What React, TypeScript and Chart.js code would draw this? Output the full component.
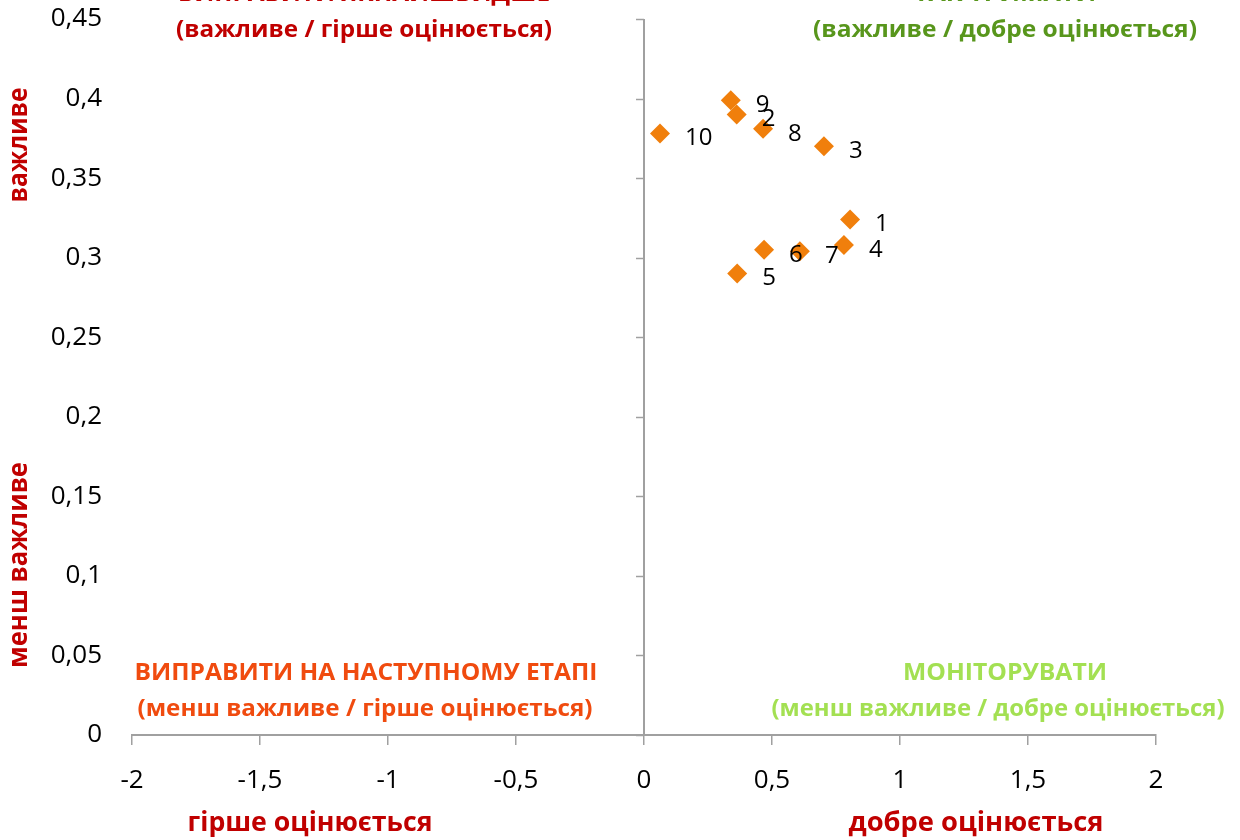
import { useEffect, useRef } from 'react';
import { Chart, registerables } from 'chart.js';

Chart.register(...registerables);

// ---- data ----
const pointLabels = ['1', '2', '3', '4', '5', '6', '7', '8', '9', '10'];
const xValues = [0.805, 0.362, 0.703, 0.781, 0.364, 0.469, 0.609, 0.465, 0.339, 0.0625];
const yValues = [0.324, 0.39, 0.37, 0.308, 0.29, 0.305, 0.304, 0.381, 0.399, 0.378];
const xTickLabels = ['-2', '-1,5', '-1', '-0,5', '0', '0,5', '1', '1,5', '2'];
const yTickLabels = ['0', '0,05', '0,1', '0,15', '0,2', '0,25', '0,3', '0,35', '0,4', '0,45'];

const quadrantTopLeft = ['ВИПРАВИТИ ЯКНАЙШВИДШЕ', '(важливе / гірше оцінюється)'];
const quadrantTopRight = ['ТАК ТРИМАТИ', '(важливе / добре оцінюється)'];
const quadrantBottomLeft = ['ВИПРАВИТИ НА НАСТУПНОМУ ЕТАПІ', '(менш важливе / гірше оцінюється)'];
const quadrantBottomRight = ['МОНІТОРУВАТИ', '(менш важливе / добре оцінюється)'];
const xAxisTitles = ['гірше оцінюється', 'добре оцінюється'];
const yAxisTitles = ['важливе', 'менш важливе'];

const AXIS_GREY = '#A0A0A0';
const DARK_RED = '#C00000';

function fitText(
  ctx: CanvasRenderingContext2D,
  text: string,
  cx: number,
  cy: number,
  w: number,
  font: string,
  color: string,
  rot = 0
) {
  ctx.save();
  ctx.font = font;
  const m = ctx.measureText(text).width || 1;
  ctx.translate(cx, cy);
  if (rot) ctx.rotate(rot);
  ctx.scale(w / m, 1);
  ctx.fillStyle = color;
  ctx.textAlign = 'center';
  ctx.textBaseline = 'middle';
  ctx.fillText(text, 0, 0);
  ctx.restore();
}

const overlayPlugin = {
  id: 'quadOverlay',
  beforeDatasetsDraw(chart: any) {
    const ctx: CanvasRenderingContext2D = chart.ctx;
    const xs = chart.scales.x;
    const ys = chart.scales.y;
    const area = chart.chartArea;
    const x0 = Math.round(xs.getPixelForValue(0));
    ctx.save();
    ctx.strokeStyle = AXIS_GREY;
    ctx.lineWidth = 2;
    ctx.beginPath();
    ctx.moveTo(x0, area.top);
    ctx.lineTo(x0, area.bottom);
    ctx.stroke();
    ys.ticks.forEach((t: any) => {
      const y = Math.round(ys.getPixelForValue(t.value)) + 0.5;
      ctx.beginPath();
      ctx.lineWidth = 1.5;
      ctx.moveTo(x0 - 8, y);
      ctx.lineTo(x0, y);
      ctx.stroke();
    });
    ctx.restore();
  },
  afterDatasetsDraw(chart: any) {
    const ctx: CanvasRenderingContext2D = chart.ctx;
    const meta = chart.getDatasetMeta(0);
    ctx.save();
    ctx.font = '24px "Open Sans"';
    ctx.fillStyle = '#000000';
    ctx.textAlign = 'left';
    ctx.textBaseline = 'middle';
    meta.data.forEach((el: any, i: number) => {
      ctx.fillText(pointLabels[i], el.x + 25, el.y + 5);
    });
    ctx.restore();

    const bold = 'bold 23px "Open Sans"';
    // top quadrants (partly cut off at top)
    fitText(ctx, quadrantTopLeft[0], 364, -6, 372, bold, DARK_RED);
    fitText(ctx, quadrantTopLeft[1], 364, 30, 376, bold, DARK_RED);
    fitText(ctx, quadrantTopRight[0], 1005, -6, 182, bold, '#58961C');
    fitText(ctx, quadrantTopRight[1], 1005, 30, 384, bold, '#58961C');
    // bottom quadrants
    fitText(ctx, quadrantBottomLeft[0], 366, 673, 463, bold, '#F04B0F');
    fitText(ctx, quadrantBottomLeft[1], 365, 709, 455, bold, '#F04B0F');
    fitText(ctx, quadrantBottomRight[0], 1005, 673, 204, bold, '#A3E052');
    fitText(ctx, quadrantBottomRight[1], 998, 709, 453, bold, '#A3E052');
    // axis titles
    const titleFont = 'bold 26px "Open Sans"';
    fitText(ctx, xAxisTitles[0], 310, 824, 245, titleFont, DARK_RED);
    fitText(ctx, xAxisTitles[1], 976, 824, 255, titleFont, DARK_RED);
    fitText(ctx, yAxisTitles[0], 20, 145, 115, titleFont, DARK_RED, -Math.PI / 2);
    fitText(ctx, yAxisTitles[1], 20, 565, 206, titleFont, DARK_RED, -Math.PI / 2);
  },
};

export default function App() {
  const canvasRef = useRef<HTMLCanvasElement | null>(null);

  useEffect(() => {
    if (!canvasRef.current) return;
    const points = xValues.map((x, i) => ({ x, y: yValues[i] }));
    const chart = new Chart(canvasRef.current, {
      type: 'scatter',
      data: {
        datasets: [
          {
            label: 'series',
            data: points,
            pointStyle: 'rectRot',
            pointRadius: 10,
            pointHoverRadius: 10,
            pointBorderWidth: 0,
            backgroundColor: '#F07F0C',
            borderColor: '#F07F0C',
          },
        ],
      },
      options: {
        animation: false,
        responsive: true,
        maintainAspectRatio: false,
        layout: { padding: { top: 19, right: 84, left: 0, bottom: 0 } },
        plugins: {
          legend: { display: false },
          tooltip: { enabled: false },
        },
        scales: {
          x: {
            type: 'linear',
            min: -2,
            max: 2,
            afterFit: (s: any) => {
              s.height = 105;
              s.paddingLeft = 0;
              s.paddingRight = 0;
            },
            ticks: {
              stepSize: 0.5,
              padding: 20,
              color: '#000000',
              font: { family: '"Open Sans"', size: 26 },
              maxRotation: 0,
              callback: (_v: any, i: number) => xTickLabels[i],
            },
            grid: {
              drawOnChartArea: false,
              drawTicks: true,
              tickLength: 10,
              color: AXIS_GREY,
              tickColor: AXIS_GREY,
              lineWidth: 1.5,
            },
            border: { display: true, color: AXIS_GREY, width: 2 },
          },
          y: {
            type: 'linear',
            min: 0,
            max: 0.45,
            afterFit: (s: any) => {
              s.width = 132;
              s.paddingTop = 0;
              s.paddingBottom = 0;
            },
            ticks: {
              stepSize: 0.05,
              padding: 30,
              color: '#000000',
              font: { family: '"Open Sans"', size: 26 },
              callback: (_v: any, i: number) => yTickLabels[i],
            },
            grid: { display: false, drawTicks: false },
            border: { display: false },
          },
        },
      },
      plugins: [overlayPlugin],
    });
    return () => chart.destroy();
  }, []);

  return (
    <div style={{ position: 'absolute', left: 0, top: 0, width: 1240, height: 840, background: '#ffffff' }}>
      <canvas ref={canvasRef} />
    </div>
  );
}
